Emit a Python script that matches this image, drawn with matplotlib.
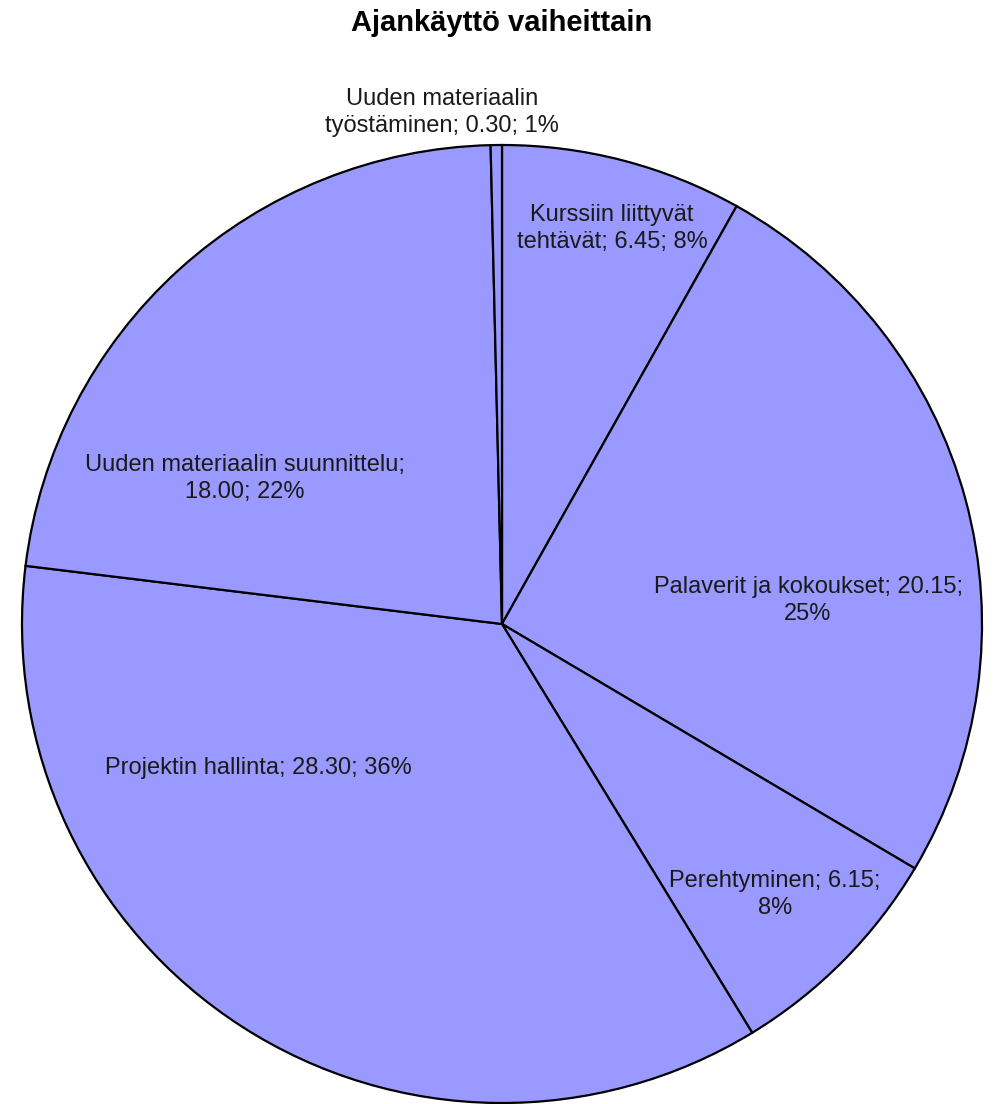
import numpy as np
import matplotlib.pyplot as plt

plt.rcParams['font.family'] = ['Liberation Sans', 'DejaVu Sans']

#%% data
categories = ["Kurssiin liittyvät\ntehtävät",
              "Palaverit ja kokoukset",
              "Perehtyminen",
              "Projektin hallinta",
              "Uuden materiaalin suunnittelu",
              "Uuden materiaalin\ntyöstäminen"]
hours = [6.45, 20.15, 6.15, 28.30, 18.00, 0.30]
percent_labels = ["8%", "25%", "8%", "36%", "22%", "1%"]

# label text layout (line break placement) and position in pie radius units
label_fmt = ["{c}; {v:.2f}; {p}",
             "{c}; {v:.2f};\n{p}",
             "{c}; {v:.2f};\n{p}",
             "{c}; {v:.2f}; {p}",
             "{c}\n{v:.2f}; {p}",
             "{c}; {v:.2f}; {p}"]
label_pos = [(0.229, 0.825), (0.6375, 0.05), (0.569, -0.565),
             (-0.508, -0.300), (-0.535, 0.304), (-0.125, 1.067)]

#%% plot
fig = plt.figure(figsize=(9.97, 11.04), dpi=100)
ax = fig.add_axes([22/997, 1/1104, 960/997, 958/1104])

wedges, _ = ax.pie(hours, startangle=90, counterclock=False,
                   colors=['#9999ff'] * len(hours),
                   wedgeprops=dict(edgecolor='black', linewidth=1.6))

for i, w in enumerate(wedges):
    c = categories[i]
    if i == 4:
        c = c + ";"
    txt = label_fmt[i].format(c=c, v=hours[i], p=percent_labels[i])
    ax.text(label_pos[i][0], label_pos[i][1], txt, ha='center', va='center',
            fontsize=17, color='#1a1a1a', linespacing=1.3)

ax.set_xlim(-1.0, 1.0)
ax.set_ylim(-1.0, 1.0)
ax.set_aspect('auto')
ax.axis('off')

fig.text(502/997, 1 - 23/1104, "Ajankäyttö vaiheittain", ha='center', va='center',
         fontsize=21, fontweight='bold')

fig.savefig('out.png', dpi=100)
